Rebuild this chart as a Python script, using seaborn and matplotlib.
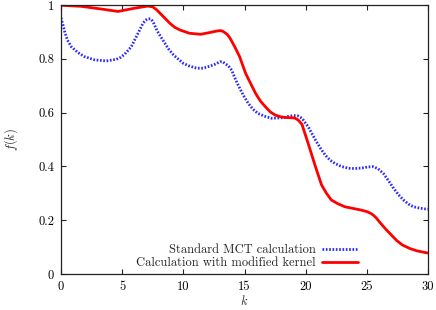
import matplotlib
matplotlib.use("Agg")
import matplotlib.pyplot as plt
import seaborn as sns
import pandas as pd

# Standard MCT calculation
k_std = [0.0, 0.16, 0.3, 0.52, 0.84, 1.39, 1.93, 2.75, 3.7, 4.52, 4.9, 5.2, 5.75,
         6.0, 6.3, 6.7, 6.9, 7.06, 7.3, 7.45, 7.6, 7.87, 8.4, 8.8, 9.2, 10.0, 10.5,
         11.1, 11.6, 12.2, 12.6, 13.0, 13.2, 13.4, 13.7, 13.95, 14.2, 14.5, 14.9,
         15.3, 15.7, 16.1, 16.6, 17.2, 18.2, 18.6, 19.0, 19.35, 19.7, 20.0, 20.2,
         20.8, 21.2, 21.6, 22.0, 22.4, 22.9, 23.5, 24.0, 24.6, 25.1, 25.5, 25.9,
         26.35, 26.8, 27.2, 27.6, 28.0, 28.4, 28.8, 29.3, 29.75, 30.0]
f_std = [0.952, 0.926, 0.901, 0.870, 0.845, 0.823, 0.808, 0.796, 0.792, 0.798,
         0.806, 0.817, 0.845, 0.868, 0.895, 0.932, 0.943, 0.948, 0.949, 0.942,
         0.930, 0.903, 0.864, 0.836, 0.814, 0.783, 0.773, 0.765, 0.765, 0.773,
         0.780, 0.789, 0.789, 0.783, 0.773, 0.758, 0.730, 0.700, 0.665, 0.635,
         0.612, 0.597, 0.587, 0.579, 0.581, 0.586, 0.589, 0.588, 0.579, 0.560,
         0.548, 0.498, 0.468, 0.442, 0.423, 0.411, 0.400, 0.393, 0.392, 0.394,
         0.398, 0.399, 0.392, 0.374, 0.345, 0.318, 0.294, 0.275, 0.260, 0.250,
         0.245, 0.242, 0.241]

# Calculation with modified kernel
k_mod = [0.0, 1.66, 3.3, 4.66, 6.0, 7.1, 7.5, 7.8, 8.1, 8.9, 9.3, 9.73, 10.5, 11.4,
         12.2, 12.6, 13.0, 13.2, 13.4, 13.6, 13.8, 14.2, 14.6, 15.1, 15.9, 16.3,
         16.7, 17.1, 17.5, 17.9, 18.3, 19.1, 19.4, 19.7, 20.2, 20.8, 21.3, 21.7,
         22.1, 22.6, 23.2, 24.5, 25.0, 25.3, 25.55, 25.8, 26.1, 26.6, 27.45, 27.9,
         28.5, 29.1, 29.75, 30.0]
f_mod = [0.999, 0.995, 0.985, 0.976, 0.988, 0.996, 0.993, 0.983, 0.969, 0.932,
         0.917, 0.907, 0.895, 0.891, 0.898, 0.902, 0.905, 0.903, 0.897, 0.890,
         0.878, 0.845, 0.808, 0.745, 0.672, 0.643, 0.622, 0.603, 0.591, 0.585,
         0.582, 0.580, 0.572, 0.556, 0.486, 0.399, 0.331, 0.300, 0.275, 0.262,
         0.250, 0.238, 0.232, 0.226, 0.218, 0.207, 0.190, 0.164, 0.124, 0.108,
         0.095, 0.086, 0.080, 0.078]

labels = ["Standard MCT calculation", "Calculation with modified kernel"]
xticks = [0, 5, 10, 15, 20, 25, 30]
yticks = [0, 0.2, 0.4, 0.6, 0.8, 1]
yticklabels = ["0", "0.2", "0.4", "0.6", "0.8", "1"]

sns.set_style("ticks")
plt.rcParams["font.family"] = ["cmr10", "DejaVu Serif"]
plt.rcParams["mathtext.fontset"] = "cm"
plt.rcParams["axes.formatter.use_mathtext"] = True
plt.rcParams["lines.solid_joinstyle"] = "round"

df_std = pd.DataFrame({"k": k_std, "f": f_std})
df_mod = pd.DataFrame({"k": k_mod, "f": f_mod})

fig = plt.figure(figsize=(4.36, 3.10), dpi=100)
ax = fig.add_axes([61/436, 36/310, 367/436, 269/310])

sns.lineplot(data=df_std, x="k", y="f", ax=ax, sort=False, color="#2a2aff",
             linewidth=2.0, linestyle=(0, (0.6, 0.6)), label=labels[0])
sns.lineplot(data=df_mod, x="k", y="f", ax=ax, sort=False, color="#ff0000",
             linewidth=2.0, label=labels[1])

ax.set_xlim(0, 30)
ax.set_ylim(0, 1)
ax.set_xticks(xticks)
ax.set_xticklabels([str(t) for t in xticks])
ax.set_yticks(yticks)
ax.set_yticklabels(yticklabels)
ax.tick_params(direction="in", length=3.5, width=0.8, top=True, right=True,
               labelsize=9, pad=5, colors="#222222", labelcolor="black")
for s in ax.spines.values():
    s.set_linewidth(0.9)
    s.set_color("#222222")

ax.set_xlabel("$k$", fontsize=9, labelpad=1)
ax.set_ylabel("$f(k)$", fontsize=9, labelpad=13)

leg = ax.legend(loc="lower right", bbox_to_anchor=(0.83, -0.01), frameon=False,
                markerfirst=False, fontsize=9, handlelength=2.9, handletextpad=0.5,
                labelspacing=0.05, borderaxespad=0.2)
for col in leg._legend_handle_box.get_children():
    col.align = "right"

fig.savefig("out.png", dpi=100)
